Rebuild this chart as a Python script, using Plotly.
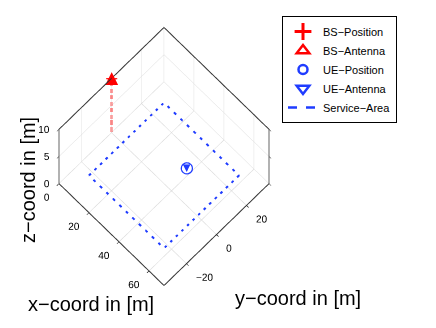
import plotly.graph_objects as go

# ---- data ----
bs_pos = [0, 0, 10]          # BS position (x, y, z)
bs_ant = [0, 0, 10]          # BS antenna
bs_mast_z = [0, 10]          # mast from ground to antenna
ue_pos = [40, 10, 1.5]       # UE position
ue_ant = [40, 10, 1.5]       # UE antenna
area_x = [10, 10, 60, 60, 10]
area_y = [-25, 25, 25, -25, -25]
area_z = [1.5, 1.5, 1.5, 1.5, 1.5]
x_ticks = [0, 20, 40, 60]
y_ticks = [-20, 0, 20]
z_ticks = [0, 5, 10]
x_range = [0, 70]
y_range = [-35, 35]
z_range = [0, 10]
legend_names = ["BS−Position", "BS−Antenna", "UE−Position", "UE−Antenna", "Service−Area"]

RED = "#ff0000"
BLUE = "#1f3cff"
FONT = "Liberation Sans, Arial, Helvetica, sans-serif"

def fmt(v):
    return str(v).replace("-", "−")

fig = go.Figure()

# 3D traces
fig.add_trace(go.Scatter3d(x=area_x, y=area_y, z=area_z, mode="lines",
                           line=dict(color=BLUE, width=4, dash="dash"),
                           showlegend=False, hoverinfo="skip"))
fig.add_trace(go.Scatter3d(x=[bs_pos[0], bs_ant[0]], y=[bs_pos[1], bs_ant[1]], z=bs_mast_z,
                           mode="lines", line=dict(color=RED, width=5, dash="dash"),
                           showlegend=False, hoverinfo="skip"))
fig.add_trace(go.Scatter3d(x=[bs_pos[0]], y=[bs_pos[1]], z=[bs_pos[2]], mode="markers",
                           marker=dict(symbol="cross", size=6, color=RED),
                           showlegend=False, hoverinfo="skip"))
fig.add_trace(go.Scatter3d(x=[bs_ant[0]], y=[bs_ant[1]], z=[bs_ant[2]], mode="text",
                           text=["▲"], textposition="middle center",
                           textfont=dict(size=17, color=RED, family="DejaVu Sans"),
                           showlegend=False, hoverinfo="skip"))
fig.add_trace(go.Scatter3d(x=[ue_pos[0]], y=[ue_pos[1]], z=[ue_pos[2]], mode="markers",
                           marker=dict(symbol="circle-open", size=7, color=BLUE),
                           showlegend=False, hoverinfo="skip"))
fig.add_trace(go.Scatter3d(x=[ue_ant[0]], y=[ue_ant[1]], z=[ue_ant[2]], mode="text",
                           text=["▼"], textposition="middle center",
                           textfont=dict(size=10, color=BLUE, family="DejaVu Sans"),
                           showlegend=False, hoverinfo="skip"))

# tick labels, horizontal, placed at the tick positions on the box edges
tickfont = dict(size=10, color="black", family=FONT)
fig.add_trace(go.Scatter3d(x=x_ticks, y=[y_range[0]] * len(x_ticks), z=[z_range[0]] * len(x_ticks),
                           mode="text", text=[fmt(v) for v in x_ticks], textposition="bottom left",
                           textfont=tickfont, showlegend=False, hoverinfo="skip"))
fig.add_trace(go.Scatter3d(x=[x_range[1]] * len(y_ticks), y=y_ticks, z=[z_range[0]] * len(y_ticks),
                           mode="text", text=[fmt(v) for v in y_ticks], textposition="bottom right",
                           textfont=tickfont, showlegend=False, hoverinfo="skip"))
fig.add_trace(go.Scatter3d(x=[x_range[0]] * len(z_ticks), y=[y_range[0]] * len(z_ticks), z=z_ticks,
                           mode="text", text=[fmt(v) for v in z_ticks], textposition="middle left",
                           textfont=tickfont, showlegend=False, hoverinfo="skip"))

# legend-only 2D traces
fig.add_trace(go.Scatter(x=[None], y=[None], mode="markers", name=legend_names[0],
                         marker=dict(symbol="cross-thin-open", size=12, color=RED,
                                     line=dict(color=RED, width=3))))
fig.add_trace(go.Scatter(x=[None], y=[None], mode="markers", name=legend_names[1],
                         marker=dict(symbol="triangle-up-open", size=11, color=RED,
                                     line=dict(color=RED, width=2.5))))
fig.add_trace(go.Scatter(x=[None], y=[None], mode="markers", name=legend_names[2],
                         marker=dict(symbol="circle-open", size=9, color=BLUE,
                                     line=dict(color=BLUE, width=2.5))))
fig.add_trace(go.Scatter(x=[None], y=[None], mode="markers", name=legend_names[3],
                         marker=dict(symbol="triangle-down-open", size=11, color=BLUE,
                                     line=dict(color=BLUE, width=2.5))))
fig.add_trace(go.Scatter(x=[None], y=[None], mode="lines", name=legend_names[4],
                         line=dict(color=BLUE, width=2.5, dash="dash")))

axis_common = dict(showgrid=True, gridcolor="#d8d8d8", gridwidth=1,
                   showline=True, linecolor="#333333", linewidth=2, mirror="all",
                   showbackground=False, showspikes=False, zeroline=False,
                   ticks="outside", ticklen=3, tickcolor="black",
                   showticklabels=False, title=dict(text=""))

fig.update_layout(
    width=436, height=328,
    margin=dict(l=0, r=0, t=0, b=0),
    paper_bgcolor="white", plot_bgcolor="white",
    font=dict(family=FONT, color="black"),
    xaxis=dict(visible=False), yaxis=dict(visible=False),
    scene=dict(
        domain=dict(x=[0.0161, 0.6995], y=[0.0945, 1.0]),
        xaxis=dict(range=x_range, tickvals=x_ticks, **axis_common),
        yaxis=dict(range=y_range, tickvals=y_ticks, **axis_common),
        zaxis=dict(range=z_range, tickvals=z_ticks, **axis_common),
        aspectmode="manual", aspectratio=dict(x=1, y=1, z=1.51),
        camera=dict(eye=dict(x=0.4386, y=-0.4386, z=2.487), up=dict(x=0, y=0, z=1),
                    center=dict(x=0, y=0, z=0),
                    projection=dict(type="orthographic")),
        bgcolor="white",
    ),
    legend=dict(x=274 / 436, y=1 - 8 / 328, xanchor="left", yanchor="top",
                bordercolor="black", borderwidth=1, bgcolor="white",
                font=dict(size=11, family=FONT, color="black"),
                tracegroupgap=0, itemwidth=30),
    annotations=[
        dict(text="x−coord in [m]", x=83 / 436, y=1 - 296 / 328),
        dict(text="y−coord in [m]", x=290 / 436, y=1 - 290 / 328),
        dict(text="z−coord in [m]", x=20 / 436, y=1 - 172 / 328, textangle=-90),
    ],
)
fig.update_annotations(xref="paper", yref="paper", xanchor="center", yanchor="middle",
                       showarrow=False, font=dict(size=20, family=FONT, color="black"))

fig.write_html("out.html")
